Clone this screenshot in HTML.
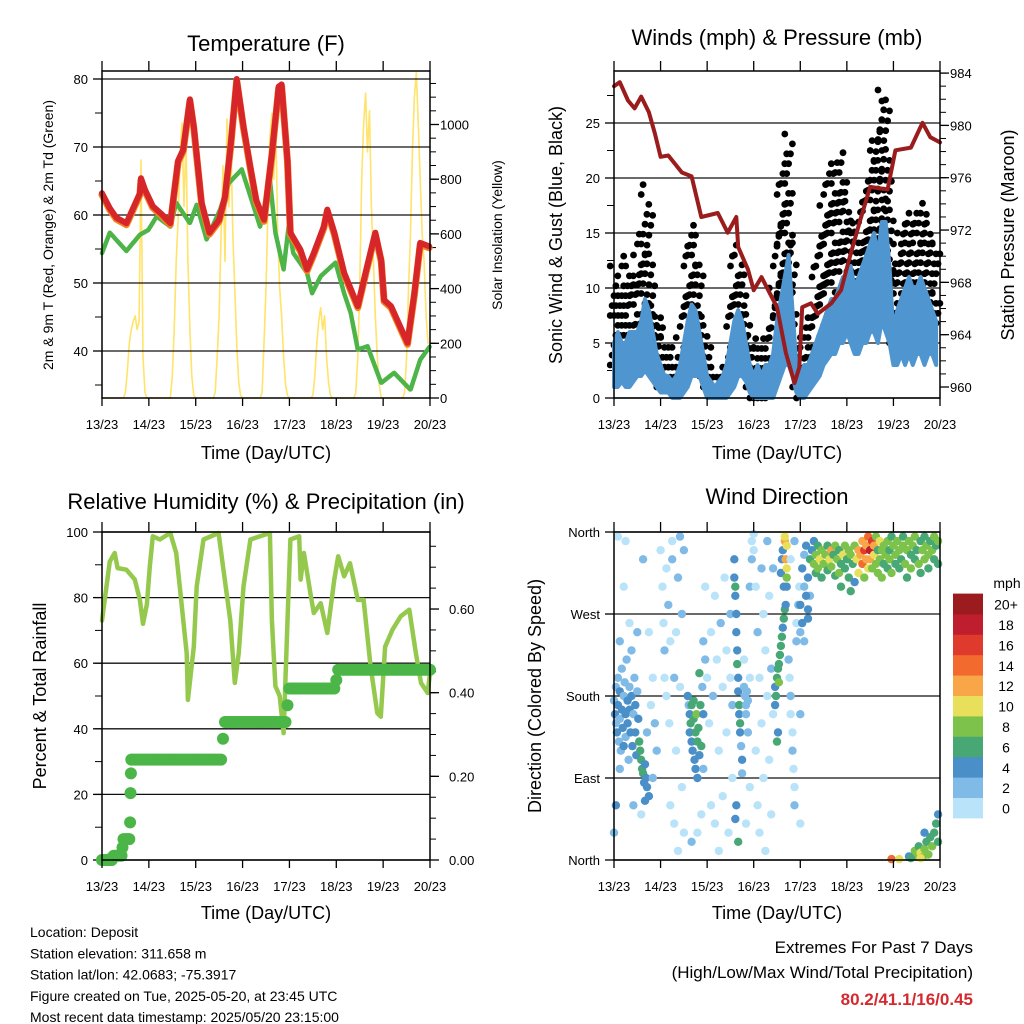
<!DOCTYPE html>
<html><head><meta charset="utf-8">
<style>
html,body{margin:0;padding:0;background:#fff;}
svg{display:block;font-family:"Liberation Sans",Arial,sans-serif;}
</style></head>
<body>
<svg id="fig" width="1024" height="1024" viewBox="0 0 1024 1024" xmlns="http://www.w3.org/2000/svg"></svg>
<script>
// ---------------- DATA ----------------
const dayLabels = ["13/23","14/23","15/23","16/23","17/23","18/23","19/23","20/23"];
const tempHours = [0,4,7.4,12.5,19.4,20,22,26,31,35,39,41.6,45,47,51,55,60,63,66,69,72.5,76,79,83,87,90.5,92,95,96.5,101.6,105,108.5,113.6,115.4,119,124,131,135,140,143,144.5,148,156.5,160,163,167.6];
const tempVals = [63.2,61,59.6,58.8,63.2,65.4,63.7,61.3,60,58.8,68,69.6,77,73,61.8,57.4,59.3,62.7,70.6,80,73,67,62.2,59.3,69,78.9,79.2,68,57.4,54.9,52,54.4,58.3,60.8,57.4,51.5,46.6,51.5,57.4,53.4,47.5,46.6,41.2,48.5,55.9,55.4];
const dewHours = [0,4,12.5,19.4,23.7,28,35,38,45,48.5,53.6,60.5,65,71.6,81,86,88.8,93,95.6,98,105,107.6,112,119.6,124,127.4,131,136,143,149.6,158,163,168];
const dewVals = [54.4,57.4,54.7,57.1,57.8,59.8,58.3,61.8,58.8,61.5,56.4,60.8,64.7,66.7,58.3,65.2,57.4,52,58.3,54.4,51.5,48.5,51,53,48.5,45.6,40.2,40.7,35.3,36.8,34.3,38.7,40.7];
const solarVals = [
0,0,0,0,0,0,0,0,0,0,0,0,20,100,200,250,280,300,250,280,870,150,20,0,
0,0,0,0,0,0,0,0,0,0,0,0,80,250,500,650,900,1005,700,950,500,250,80,10,
0,0,0,0,0,0,0,0,0,0,20,150,300,600,850,500,1020,700,950,600,400,200,60,10,
0,0,0,0,0,0,0,0,0,0,20,200,400,700,950,1040,800,1000,600,400,300,150,50,10,
0,0,0,0,0,0,0,0,0,0,0,0,10,80,200,280,330,250,300,150,60,10,0,0,
0,0,0,0,0,0,0,0,0,0,20,150,400,800,1000,1115,900,1050,700,500,300,150,50,0,
0,0,0,0,0,0,0,0,0,0,0,20,150,400,600,900,1100,1190,1000,800,600,500,300,200];
const presHours = [0,3,7.2,10.6,14,18,21,24,28,35,40,45,53.5,58.6,63,64,69,72,76,84,88.6,93,95.5,97,101.5,105,112,117,122,127,132,141,145,153,159,163,168];
const presVals = [983,983.3,981.9,981.3,982.2,981,979.4,977.6,977.7,976.4,976.1,973,973.3,971.8,973,970.7,969,967.4,968.4,966.1,962.6,960.3,961.5,966.1,966.4,965.6,966.4,967.4,970.2,972.8,975.3,975.1,978.1,978.3,980.2,979.1,978.7];
const sonicLo = [1,1,1.5,1,1,1.5,2,2,2.5,2,1.5,1, 0.5,0.5,0.5,0,0,0,0.5,1,2,2,2,1, 0,0,0,0,0,0,0.5,1,2,2,1.5,0.5, 0,0,0,0,0,0,1,2,3,3,2,0.5, 0,0,0.5,1,1.5,2,3,3.5,4,4,5,5, 6,5,4,4,5,5,6,6,5,7,6,5, 3,3,4,3,4,3,4,4,3,4,4,3];
const sonicHi = [5,6,5,5,6,6,6,7,9,8,6,4, 3,2,2,1.5,2,3,5,7,8.5,8,6,4, 2,1.5,1,1.5,2,3,5,7,8,7,5,3, 2,3,2,3,3,4,7,9,11,13,8,3, 2,3,3,4,5,6,7,8,9,9,10,11, 11,12,10,11,12,13,14,15,13,16,16,12, 6,8,9,10,11,10,10,11,10,9,8,7];
const gustLo = [3,3,3,3,3,4,4,5,5,4,3,2, 1,1,1,1,1,1,2,3,4,4,3,2, 1,1,1,1,1,1,2,3,4,4,3,1, 0,0,0,0,0,1,3,5,6,6,4,1, 0,1,1,1,2,3,4,5,6,6,7,7, 8,7,6,6,7,8,9,9,8,10,9,8, 5,5,6,5,6,5,6,6,5,6,5,5];
const gustHi = [12,10,11,13,12,11,13,15,20,17,11,8, 8,7,5,3,4,6,10,14,16,15,12,8, 5,3,2,2,3,5,10,13,14,12,10,6, 5,6,5,6,7,10,16,20,23,24,15,6, 5,6,8,8,12,15,18,20,22,21,22,23, 18,17,16,15,18,20,22,24,25,28,27,20, 13,14,15,16,17,16,17,18,17,16,15,14];
const rhHours = [0,2.2,4,6.5,8,12.5,16.8,19.4,21,23,24.5,26,29.6,35,38,40,43.4,44,47,48.5,52,59.7,62,65.7,68,70,72.5,76,86,87,88.8,91,93,95,96.5,101,101.7,103.4,107,108.5,112,115.4,119,121,124,127,131,134,137.6,141,142.8,145,148.8,153,157.4,160.8,163.4,166.8,168];
const rhVals = [73,83,91,93.6,89,88.5,85.5,79.3,72,78,89.5,98.7,97.7,99.7,93.6,82.4,63,48.8,65,83.4,97.7,99.7,89.5,73,54,63,83.4,97.7,99.7,73,53,50,38.7,73,97.7,98.7,85.5,93.6,80.4,75.3,78.3,69.2,85.5,92.6,86.5,90.5,79.3,79.3,59,44.8,43.7,65,70.2,74.3,76.3,63,54,50.9,57];
const precipVals = [
0,0,0,0,0,0, 0.01,0.01,0.01,0.01,0.01, 0.05,0.05,0.05,0.05,
0.24,0.24,0.24,0.24,0.24,0.24,0.24,0.24,0.24,0.24,0.24,0.24,0.24,0.24,0.24,0.24,0.24,0.24,0.24,0.24,0.24,0.24,0.24,0.24,0.24,0.24,0.24,0.24,0.24,0.24,0.24,0.24,0.24,0.24,0.24,0.24,0.24,0.24,0.24,0.24,0.24,0.24,0.24,0.24,0.24,0.24,0.24,
0.29,0.33,0.33,0.33,0.33,0.33,0.33,0.33,0.33,0.33,0.33,0.33,0.33,0.33,0.33,0.33,0.33,0.33,0.33,0.33,0.33,0.33,0.33,0.33,0.33,0.33,0.33,0.33,0.33,0.33,0.33,0.33,0.33,
0.37,0.41,0.41,0.41,0.41,0.41,0.41,0.41,0.41,0.41,0.41,0.41,0.41,0.41,0.41,0.41,0.41,0.41,0.41,0.41,0.41,0.41,0.41,0.41,0.41,
0.43,0.455,0.455,0.455,0.455,0.455,0.455,0.455,0.455,0.455,0.455,0.455,0.455,0.455,0.455,0.455,0.455,0.455,0.455,0.455,0.455,0.455,0.455,0.455,0.455,0.455,0.455,0.455,0.455,0.455,0.455,0.455,0.455,0.455,0.455,0.455,0.455,0.455,0.455,0.455,0.455,0.455,0.455,0.455,0.455,0.455,0.455,0.455,0.455];
const precipExtraHours = [14.4,14.6,14.8,5,10.5];
const precipExtraVals = [0.09,0.16,0.207,0.005,0.03];
const dirObs = [
[0,175,3],[0.5,160,4],[1,190,2],[1,150,3],[1.5,140,4],[2,200,2],[2,170,5],[2.5,130,3],[3,185,4],[3,155,2],[3.5,120,3],[4,210,2],[4,165,4],[4.5,145,5],[5,180,3],[5,125,4],[5.5,195,2],[6,160,5],[6,135,3],[6.5,220,2],[7,175,4],[7,150,5],[7.5,110,3],[8,190,3],[8,165,5],[8.5,140,4],[9,230,2],[9,180,4],[9.5,125,5],[10,160,3],[10.5,200,2],[11,170,4],[11,140,5],[11.5,115,4],[12,185,3],[12.5,155,5],[13,130,6],[13.5,120,7],[14,110,6],[14.5,100,7],[15,95,6],[15.5,85,5],[16,105,5],[16.5,90,4],[17,80,4],[12,250,2],[8,260,1],[3,240,2],[5,300,1],[15,330,2],[6,350,1],[2,355,1],[18,250,1],[10,60,3],[14,50,1],[17,140,3],[19,170,1],[20,200,1],[21,150,3],[22,120,2],[20,90,3],[1,60,4],[0,30,3],[3,100,3],[18,70,4],[16,65,4],
[24,340,1],[25,300,1],[25.5,260,1],[26,230,2],[26,200,1],[27,180,1],[27,320,1],[28,280,2],[28.5,150,1],[29,240,1],[29,60,1],[30,350,1],[30,330,2],[31,200,2],[31,40,1],[32,250,1],[32,120,1],[33,310,2],[33,10,1],[34,355,2],[34,190,1],[35,270,2],[35,80,1],[36,340,2],[36,30,1],
[38,180,4],[38.5,170,3],[39,160,5],[39,140,4],[39.5,150,6],[40,130,4],[40,170,7],[40.5,120,5],[41,155,7],[41,175,6],[41.5,110,4],[42,140,7],[42,100,5],[42.5,160,8],[43,130,6],[43,90,4],[43.5,145,7],[44,115,5],[44.5,170,6],[45,125,7],[45.5,190,3],[46,160,4],[46,100,3],[44,205,6],[47,220,2],[45,50,1],[43,30,1],[40,20,2],[47,300,1],[46,240,2],
[48,200,1],[49,150,1],[50,250,1],[50,60,1],[51,180,2],[52,40,1],[52,290,1],[53,220,1],[54,120,1],[54,10,1],[55,260,2],[56,190,1],[56,70,1],[57,310,1],[58,230,1],[58,140,1],[59,30,1],[60,200,1],[60,270,2],[61,90,1],[61,170,2],
[62,330,4],[62,310,5],[62.5,290,5],[62.5,300,6],[63,270,4],[63,250,5],[63.5,230,4],[63.5,215,6],[64,200,5],[64,185,4],[64.5,170,7],[64.5,160,5],[65,150,6],[65,140,4],[65.5,125,3],[66,110,4],[66,95,2],[64,20,6],[63,60,4],[62.5,45,4],
[67,190,2],[67.5,180,3],[68,170,2],[68,160,3],[68.5,185,3],[69,175,2],[67,220,1],[69,140,2],[70,200,1],[70,300,2],[71,330,3],[71,350,1],[72,358,1],[70,80,1],[68,40,1],
[72,340,1],[73,300,1],[73,120,1],[74,250,2],[74,60,1],[75,200,1],[75,30,1],[76,320,2],[76,150,1],[77,270,1],[77,90,1],[78,230,1],[78,10,1],[79,180,1],[79,350,2],[80,290,1],[80,110,1],[81,210,2],[81,50,1],[82,160,1],[82,320,2],
[83,190,5],[83.5,180,6],[84,200,7],[84.5,210,6],[85,215,7],[85,195,8],[85.5,225,7],[86,235,6],[86.5,245,7],[87,255,5],[87.5,265,6],[88,275,7],[88.5,280,5],[84,130,6],[84.5,140,5],[83,170,4],[86,315,4],[86.5,330,4],[87,340,5],[89,300,5],[88,350,12],[89,345,11],[88.5,330,13],[89,320,10],[89,310,9],[88,355,10],[87.5,300,4],
[90,220,2],[90.5,200,1],[91,180,2],[91,160,1],[92,140,1],[92,120,2],[92.5,100,1],[93,80,1],[93,60,2],[94,240,2],[94,260,1],[95,280,3],[95.5,300,1],[96,160,2],[96,40,1],[91,330,1],[93,350,2],
[97,320,4],[98,335,3],[99,345,4],[100,310,5],[101,290,3],[101,330,6],[102,340,4],[103,350,5],[103,325,8],[104,335,9],[104,315,6],[105,345,7],[105,320,8],[106,330,10],[107,340,8],[107,310,7],[108,325,9],[109,335,8],[110,345,6],[110,318,7],[111,330,10],[112,340,12],[112,322,9],[113,335,7],[114,312,7],[114,345,8],[115,330,9],[116,340,6],[116,315,8],[117,300,6],[117,325,7],[118,335,10],[119,345,8],[119,320,7],[120,330,6],[121,310,7],[121,340,9],[122,335,8],[122,295,6],[123,325,7],[124,345,9],[124,305,5],[125,330,11],[126,340,12],[126,315,10],[127,335,13],[128,350,12],[128,325,14],[129,340,16],[129,310,9],[130,345,13],[130,330,12],[131,355,14],[131,320,11],[132,340,18],[132,330,12],[133,350,16],[133,320,9],[134,335,10],[134,345,13],[135,325,9],[135,355,8],[136,340,7],[136,315,9],[137,330,8],[137,350,10],[138,340,9],[138,310,8],[139,325,7],[139,345,8],[140,335,9],[141,350,8],[141,320,7],[142,340,6],[142,330,8],[143,355,7],[143,315,8],[144,345,9],[145,335,8],[145,325,7],[146,350,8],[147,340,9],[147,320,6],[148,330,7],[149,345,8],[149,355,6],[150,325,8],[151,340,9],[151,310,7],[152,350,8],[153,335,7],[153,320,9],[154,345,8],[155,330,7],[155,355,9],[156,340,6],[157,325,8],[158,350,7],[158,315,6],[159,340,8],[160,330,9],[160,355,7],[161,345,8],[162,320,7],[162,335,9],[163,350,6],[164,340,8],[165,330,7],[165,355,8],[166,345,6],[167,325,7],[167,350,8],
[96,280,4],[97,260,4],[98,300,3],[99,290,5],[100,275,4],[96,250,2],[98,240,3],[100,265,4],
[155,10,8],[156,5,9],[157,15,7],[158,8,10],[159,3,9],[160,12,8],[161,20,7],[162,6,9],[163,25,6],[164,15,8],[165,30,7],[166,40,6],[167,50,5],[167,20,7],[158,2,10],[160,30,5],[152,4,4],[143,1,14],[147,1,10],[153,2,6]];
const speedColors = ["#b9e3f8","#7fbbe6","#4a8fc8","#47a876","#7dc24b","#e8e05a","#f9a648","#f26a2e","#e03a2c","#be1e2d","#9b1b1e"];
const speedLabels = ["0","2","4","6","8","10","12","14","16","18","20+"];
const tempTicks = [40,50,60,70,80];
const solarTicks = [0,200,400,600,800,1000];
const windTicks = [0,5,10,15,20,25];
const presTicks = [960,964,968,972,976,980,984];
const rhTicks = [0,20,40,60,80,100];
const precipTicks = [0,0.2,0.4,0.6];
const dirTicks = [0,90,180,270,360];
const dirLabels = ["North","East","South","West","North"];

// ---------------- DRAWING ----------------
const NS = "http://www.w3.org/2000/svg";
const svg = document.getElementById("fig");
function el(tag, attrs, parent){
  const e = document.createElementNS(NS, tag);
  for (const k in attrs) e.setAttribute(k, attrs[k]);
  (parent||svg).appendChild(e);
  return e;
}
function group(name){
  const g = el("g", {});
  
  
  return g;
}
function txt(str, x, y, size, anchor, name, parent, extra){
  const t = el("text", Object.assign({x:x, y:y, "font-size":size, "text-anchor":anchor||"middle", fill:"#000"}, extra||{}), parent);
  t.textContent = str;
  
  
  return t;
}
function ln(x1,y1,x2,y2,stroke,w,parent,name){
  const l = el("line",{x1:x1,y1:y1,x2:x2,y2:y2,stroke:stroke,"stroke-width":w},parent);
  
  
  return l;
}
function poly(pts,stroke,w,parent,name,extra){
  const p = el("polyline",Object.assign({points:pts.map(q=>q[0].toFixed(1)+","+q[1].toFixed(1)).join(" "),fill:"none",stroke:stroke,"stroke-width":w,"stroke-linejoin":"round","stroke-linecap":"round"},extra||{}),parent);
  
  
  return p;
}
function dot(x,y,r,fill,parent,name){
  const c = el("circle",{cx:x.toFixed(1),cy:y.toFixed(1),r:r,fill:fill},parent);
  
  
  return c;
}
function panel(name, x0, x1, y0, y1){
  const p = {name, x0, x1, y0, y1};
  p.x = h => x0 + h*(x1-x0)/168;
  p.g = group(name);
  return p;
}
function frame(p){
  const r = el("rect",{x:p.x0,y:p.y0,width:p.x1-p.x0,height:p.y1-p.y0,fill:"none",stroke:"#000","stroke-width":1.5},p.g);
  
  
  for (let i=0;i<dayLabels.length;i++){
    const x = p.x(i*24);
    ln(x,p.y1,x,p.y1+8,"#000",1.3,p.g,"x-tick");
    ln(x,p.y0,x,p.y0-10,"#000",1.3,p.g,"x-tick-top");
    txt(dayLabels[i], x, p.y1+31, 13, "middle", "x-tick-label", p.g);
  }
}
function leftAxis(p, ticks, yf, labels, minorStep, lo, hi, grid){
  for (let v=lo; v<=hi+1e-9; v+=minorStep){
    const y=yf(v); if (y<p.y0-0.5||y>p.y1+0.5) continue;
    ln(p.x0-7,y,p.x0,y,"#000",1,p.g,"y-minor-tick");
  }
  ticks.forEach((v,i)=>{
    const y=yf(v);
    if (grid) ln(p.x0,y,p.x1,y,"#111",1.3,p.g,"gridline");
    ln(p.x0-9,y,p.x0,y,"#000",1.3,p.g,"y-tick");
    txt(labels?labels[i]:String(v), p.x0-14, y+5, 13, "end", "y-tick-label", p.g);
  });
}
function rightAxis(p, ticks, yf, fmt, minorStep, lo, hi, off){
  for (let v=lo; v<=hi+1e-9; v+=minorStep){
    const y=yf(v); if (y<p.y0-0.5||y>p.y1+0.5) continue;
    ln(p.x1,y,p.x1+6,y,"#000",1,p.g,"right-minor-tick");
  }
  ticks.forEach(v=>{
    const y=yf(v);
    ln(p.x1,y,p.x1+9,y,"#000",1.3,p.g,"right-tick");
    txt(fmt(v), p.x1+(off||12), y+5, 13, "start", "right-tick-label", p.g);
  });
}

// ===== Panel 1 =====
const P1 = panel("temperature-panel",102,430,71,398);
const yT = t => 79 + (80-t)*6.8;
const yW = w => 398 - w*0.2735;
poly(solarVals.map((v,i)=>[P1.x(i),yW(v)]),"#ffe36a",1.6,P1.g,"solar-insolation-line");
leftAxis(P1,tempTicks,yT,null,5,35,80,true);
rightAxis(P1,solarTicks,yW,v=>String(v),50,0,1150,10);
poly(dewHours.map((h,i)=>[P1.x(h),yT(dewVals[i])]),"#4db447",4.5,P1.g,"dewpoint-line",{"stroke-dasharray":"3 1"});
poly(tempHours.map((h,i)=>[P1.x(h),yT(tempVals[i])+1.5]),"#f58220",7,P1.g,"temp-9m-line");
poly(tempHours.map((h,i)=>[P1.x(h),yT(tempVals[i])]),"#d7262a",6,P1.g,"temp-2m-line");
frame(P1);
txt("Temperature (F)",266,51,22,"middle","temperature-title",P1.g);
txt("Time (Day/UTC)",266,459,18,"middle","x-axis-title",P1.g);
txt("2m & 9m T (Red, Orange) & 2m Td (Green)",0,0,14,"middle","y-axis-title-left",P1.g,{transform:"translate(53,235) rotate(-90)"});
txt("Solar Insolation (Yellow)",0,0,14,"middle","y-axis-title-right",P1.g,{transform:"translate(502,235) rotate(-90)"});

// ===== Panel 2 =====
const P2 = panel("winds-panel",614,940,71,398);
const yS = s => 398 - s*11;
const yP = p => 387 - (p-960)*13.08;
leftAxis(P2,windTicks,yS,null,2.5,0,27.5,true);
rightAxis(P2,presTicks,yP,v=>String(v),1,959,985,10);
gustLo.forEach((lo,i)=>{
  const hi = gustHi[i];
  let k=0;
  for (let s=lo; s<=hi+1e-9; s+=0.9, k++){
    dot(P2.x(i*2)+((k%5)-2)*1.9, yS(s), 3.4, "#000", P2.g, "gust-dot");
  }
});
const bandPts = [];
sonicHi.forEach((v,i)=>bandPts.push([P2.x(i*2),yS(v)]));
for (let i=sonicLo.length-1;i>=0;i--) bandPts.push([P2.x(i*2),yS(sonicLo[i])]);
const band = el("polygon",{points:bandPts.map(q=>q[0].toFixed(1)+","+q[1].toFixed(1)).join(" "),fill:"#4f96d0",stroke:"#4f96d0","stroke-width":4,"stroke-linejoin":"round"},P2.g);


poly(presHours.map((h,i)=>[P2.x(h),yP(presVals[i])]),"#9b1c1c",4,P2.g,"pressure-line");
frame(P2);
txt("Winds (mph) & Pressure (mb)",777,45,22,"middle","winds-title",P2.g);
txt("Time (Day/UTC)",777,459,18,"middle","x-axis-title",P2.g);
txt("Sonic Wind & Gust (Blue, Black)",0,0,18,"middle","y-axis-title-left",P2.g,{transform:"translate(562,235) rotate(-90)"});
txt("Station Pressure (Maroon)",0,0,18,"middle","y-axis-title-right",P2.g,{transform:"translate(1014,235) rotate(-90)"});

// ===== Panel 3 =====
const P3 = panel("humidity-panel",102,430,532,860);
const yRH = r => 860 - r*3.28;
const yIn = v => 860 - v*418.3;
leftAxis(P3,rhTicks,yRH,null,10,0,100,true);
rightAxis(P3,precipTicks,yIn,v=>v.toFixed(2),0.05,0,0.75,19);
poly(rhHours.map((h,i)=>[P3.x(h),yRH(rhVals[i])]),"#95c94e",4.5,P3.g,"rh-line");
precipVals.forEach((v,i)=>dot(P3.x(i),yIn(v),6,"#4bb647",P3.g,"precip-dot"));
precipExtraHours.forEach((h,i)=>dot(P3.x(h),yIn(precipExtraVals[i]),6,"#4bb647",P3.g,"precip-dot"));
frame(P3);
txt("Relative Humidity (%) & Precipitation (in)",266,509,22,"middle","humidity-title",P3.g);
txt("Time (Day/UTC)",266,919,18,"middle","x-axis-title",P3.g);
txt("Percent & Total Rainfall",0,0,18,"middle","y-axis-title-left",P3.g,{transform:"translate(46,696) rotate(-90)"});

// ===== Panel 4 =====
const P4 = panel("wind-direction-panel",614,940,532,860);
const yD = d => 860 - d*0.9111;
leftAxis(P4,dirTicks,yD,dirLabels,400,500,500,true);
dirObs.forEach(o=>{
  const bin = Math.min(10, Math.max(0, Math.floor(o[2]/2)));
  dot(P4.x(o[0]), yD(o[1]), 4.2, speedColors[bin], P4.g, "direction-point");
});
frame(P4);
txt("Wind Direction",777,504,22,"middle","wind-direction-title",P4.g);
txt("Time (Day/UTC)",777,919,18,"middle","x-axis-title",P4.g);
txt("Direction (Colored By Speed)",0,0,18,"middle","y-axis-title-left",P4.g,{transform:"translate(541,696) rotate(-90)"});
const cb = group("speed-colorbar");
txt("mph",1007,588,14,"middle","colorbar-title",cb);
speedColors.forEach((c,i)=>{
  const y = 818 - (i+1)*20.4;
  const r = el("rect",{x:953,y:y.toFixed(1),width:30,height:20.8,fill:c},cb);
  
  
  txt(speedLabels[i],1006,y+16,14,"middle","colorbar-label",cb);
});

// ===== Footer =====
const ft = group("station-info");
["Location: Deposit","Station elevation: 311.658 m","Station lat/lon: 42.0683; -75.3917","Figure created on Tue, 2025-05-20, at 23:45 UTC","Most recent data timestamp: 2025/05/20 23:15:00"].forEach((s,i)=>{
  txt(s,30,937+i*21.3,14,"start","station-info-line",ft);
});
const ex = group("extremes-summary");
txt("Extremes For Past 7 Days",973,953,17,"end","extremes-heading",ex);
txt("(High/Low/Max Wind/Total Precipitation)",973,978,17,"end","extremes-subheading",ex);
txt("80.2/41.1/16/0.45",973,1005,17,"end","extremes-values",ex,{fill:"#d42a2f","font-weight":"bold"});
</script>
</body></html>
